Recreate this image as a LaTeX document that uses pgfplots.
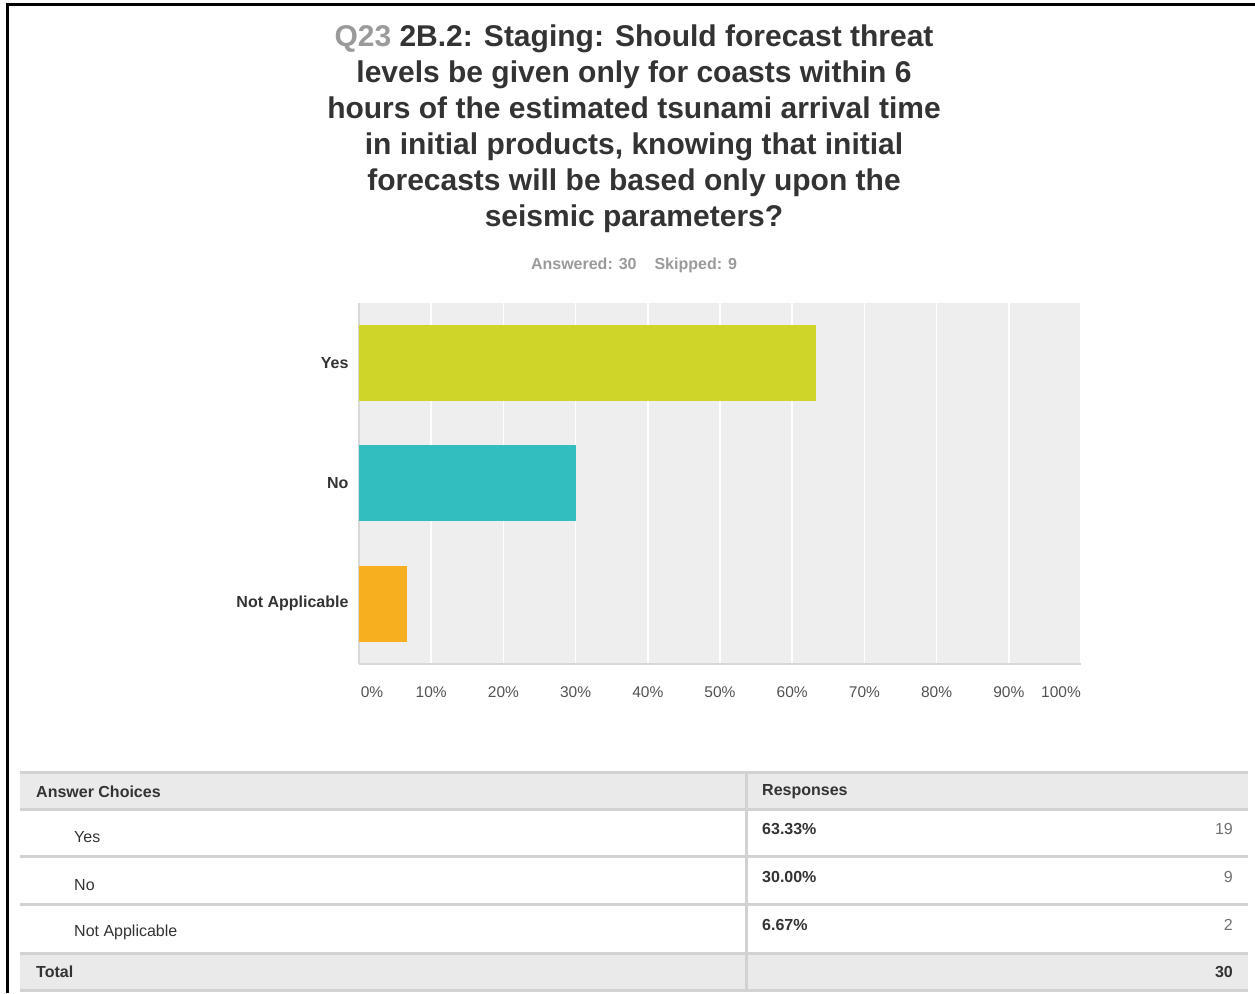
\documentclass[border=0pt]{standalone}
\usepackage{pgfplots}
\pgfplotsset{compat=1.18}
\usepackage{fontspec}
\setmainfont{Liberation Sans}
\definecolor{txt}{HTML}{333333}
\definecolor{lightgray}{HTML}{9A9A9A}
\definecolor{plotbg}{HTML}{EEEEEE}
\definecolor{axisgray}{HTML}{D8D8D8}
\definecolor{yescol}{HTML}{D0D52A}
\definecolor{nocol}{HTML}{32BDBF}
\definecolor{nacol}{HTML}{F7AF1F}
\definecolor{tabfill}{HTML}{EAEAEA}
\definecolor{tabline}{HTML}{D2D2D2}
\begin{document}
\begin{tikzpicture}[x=1pt,y=1pt]
\path[use as bounding box] (0,0) rectangle (1255,993);
% frame (cropped: top and left only)
\draw[black, line width=3pt] (7,0) -- (7,988) -- (1255,988);

% title
\node[align=center, text=txt, font=\fontsize{30}{36}\selectfont\bfseries] at (634,864)
  {{\color{lightgray}Q23} 2B.2: Staging: Should forecast threat\\
   levels be given only for coasts within 6\\
   hours of the estimated tsunami arrival time\\
   in initial products, knowing that initial\\
   forecasts will be based only upon the\\
   seismic parameters?};
\node[text=lightgray, font=\fontsize{16}{19}\selectfont\bfseries] at (634,728)
  {Answered: 30\hspace{18pt}Skipped: 9};

\begin{axis}[
  at={(359pt,329pt)}, anchor=south west,
  scale only axis, width=722pt, height=361pt,
  xbar, bar width=76pt,
  xmin=0, xmax=100, ymin=0.5, ymax=3.5,
  axis background/.style={fill=plotbg},
  axis x line*=bottom, axis y line*=left,
  axis line style={draw=axisgray, line width=2pt, -},
  xmajorgrids, grid style={white, line width=1.5pt},
  major tick length=0pt,
  xtick={0,10,...,100},
  xticklabels={\hspace*{26pt}0\%,10\%,20\%,30\%,40\%,50\%,60\%,70\%,80\%,90\%,100\%\hspace*{40pt}},
  xticklabel style={text=txt!85, font=\fontsize{15.5}{18}\selectfont, yshift=-19pt},
  ytick={1,2,3},
  yticklabels={Not Applicable,No,Yes},
  yticklabel style={text=txt, font=\fontsize{16}{19}\selectfont\bfseries, xshift=-7pt},
]
\addplot[fill=yescol, draw=none, bar shift=0pt] coordinates {(63.33,3)};
\addplot[fill=nocol, draw=none, bar shift=0pt] coordinates {(30.00,2)};
\addplot[fill=nacol, draw=none, bar shift=0pt] coordinates {(6.67,1)};
\end{axis}

% table (pixel rows: 773,810,857,905,953,990)
\fill[tabfill] (20,220) rectangle (1248,183);
\fill[tabfill] (20,40) rectangle (1248,3);
\foreach \yy in {220,183,136,88,40,3} {
  \draw[tabline, line width=3pt] (20,\yy) -- (1248,\yy);
}
\draw[tabline, line width=3pt] (746,220) -- (746,3);

\begin{scope}[every node/.style={text=txt, font=\fontsize{16}{19}\selectfont, inner sep=0pt}]
\node[anchor=west, font=\fontsize{16}{19}\selectfont\bfseries] at (36,201) {Answer Choices};
\node[anchor=west, font=\fontsize{16}{19}\selectfont\bfseries] at (762,201) {Responses};
\node[anchor=west] at (74,156) {Yes};
\node[anchor=west] at (74,108) {No};
\node[anchor=west] at (74,61) {Not Applicable};
\node[anchor=west, font=\fontsize{16}{19}\selectfont\bfseries] at (762,164) {63.33\%};
\node[anchor=west, font=\fontsize{16}{19}\selectfont\bfseries] at (762,116) {30.00\%};
\node[anchor=west, font=\fontsize{16}{19}\selectfont\bfseries] at (762,68) {6.67\%};
\node[anchor=east, text=txt!70] at (1233,164) {19};
\node[anchor=east, text=txt!70] at (1233,116) {9};
\node[anchor=east, text=txt!70] at (1233,68) {2};
\node[anchor=west, font=\fontsize{16}{19}\selectfont\bfseries] at (36,21) {Total};
\node[anchor=east, font=\fontsize{16}{19}\selectfont\bfseries] at (1233,21) {30};
\end{scope}
\end{tikzpicture}
\end{document}
